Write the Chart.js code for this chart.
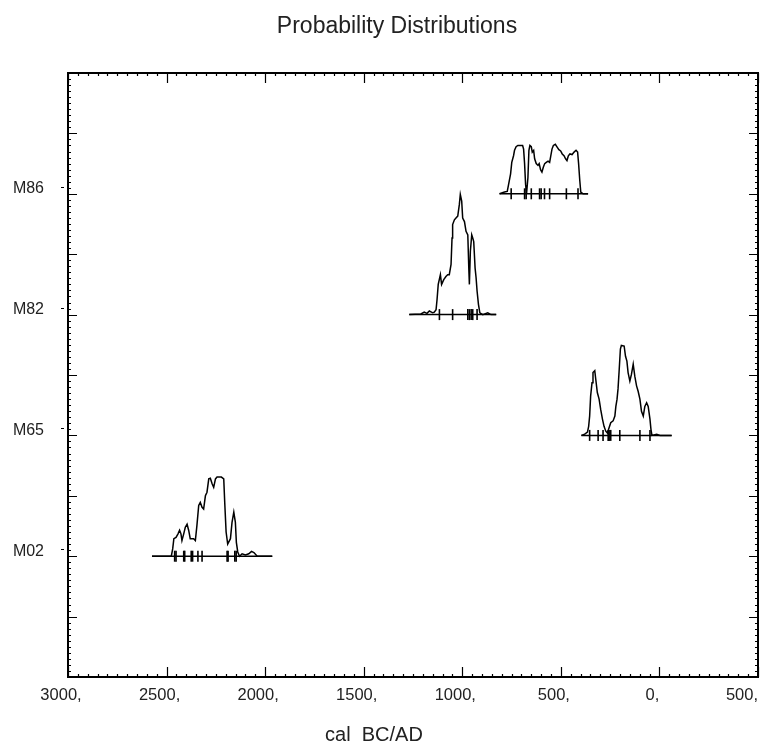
<!DOCTYPE html>
<html>
<head>
<meta charset="utf-8">
<title>Probability Distributions</title>
<script src="https://cdn.jsdelivr.net/npm/chart.js@4.4.1/dist/chart.umd.min.js"></script>
<style>
    html, body { margin: 0; padding: 0; background: #fff; }
    #wrap { width: 760px; height: 745px; }
</style>
</head>
<body>
<div id="wrap"><canvas id="probChart" width="760" height="745"></canvas></div>
<script>
// Sample names and the row each one sits on (y units)
const sampleNames = ['M02', 'M65', 'M82', 'M86'];
const sampleRows = [2, 4, 6, 8];

// x axis: cal BC positive, AD negative
const xTickValues = [3000, 2500, 2000, 1500, 1000, 500, 0, -500];
const xTickLabels = ['3000,', '2500,', '2000,', '1500,', '1000,', '500,', '0,', '500,'];

// M02 distribution
const m02Years = [2574, 2476, 2469, 2463, 2452, 2442, 2434, 2427, 2422, 2413,
    2405, 2396, 2388, 2380, 2363, 2354, 2346, 2337, 2329, 2320,
    2312, 2303, 2295, 2286, 2278, 2269, 2261, 2252, 2244, 2222,
    2210, 2205, 2198, 2190, 2176, 2168, 2159, 2151, 2146, 2139,
    2130, 2117, 2100, 2083, 2069, 2057, 2040, 1964];
const m02Prob = [0, 0, 0.12, 0.29, 0.31, 0.37, 0.43, 0.37, 0.26, 0.37,
    0.48, 0.53, 0.43, 0.29, 0.29, 0.26, 0.51, 0.84, 0.89, 0.81,
    0.78, 1.00, 1.06, 1.28, 1.29, 1.20, 1.14, 1.28, 1.31, 1.31,
    1.28, 0.89, 0.40, 0.20, 0.29, 0.56, 0.73, 0.56, 0.23, 0.07,
    0, 0.04, 0.02, 0.04, 0.08, 0.06, 0, 0];
const m02Marks = [2459, 2452, 2413, 2408, 2375, 2368, 2341, 2320, 2193, 2188, 2154, 2147];

// M65 distribution
const m65Years = [396, 379, 365, 359, 354, 349, 342, 337, 328, 323,
    315, 306, 298, 289, 281, 272, 264, 255, 247, 235,
    226, 221, 215, 210, 204, 198, 193, 179, 172, 165,
    159, 150, 142, 133, 125, 116, 108, 99, 91, 82,
    74, 65, 57, 48, 43, 38, 14, -3, -62];
const m65Prob = [0, 0.02, 0.055, 0.15, 0.32, 0.65, 0.87, 1.04, 1.07, 0.93,
    0.71, 0.60, 0.43, 0.27, 0.15, 0.07, 0.04, 0.13, 0.21, 0.24,
    0.32, 0.48, 0.60, 0.77, 1.09, 1.43, 1.49, 1.48, 1.31, 1.23,
    1.04, 0.90, 1.01, 1.18, 0.98, 0.82, 0.73, 0.60, 0.40, 0.32,
    0.48, 0.54, 0.48, 0.27, 0.10, 0, 0.02, 0, 0];
const m65Marks = [354, 311, 286, 260, 255, 247, 201, 99, 48];

// M82 distribution
const m82Years = [1269, 1210, 1193, 1179, 1167, 1150, 1142, 1133, 1128, 1122,
    1111, 1105, 1094, 1083, 1074, 1066, 1057, 1052, 1049, 1040,
    1032, 1023, 1015, 1010, 1003, 998, 989, 981, 972, 967,
    964, 959, 952, 947, 942, 935, 930, 925, 918, 911,
    896, 871, 854, 828];
const m82Prob = [0, 0.01, 0.04, 0.02, 0.06, 0.03, 0.04, 0.08, 0.25, 0.50,
    0.66, 0.50, 0.58, 0.63, 0.66, 0.66, 0.83, 1.27, 1.49, 1.57,
    1.60, 1.63, 1.82, 1.99, 1.88, 1.60, 1.54, 1.38, 1.32, 0.77,
    0.50, 1.05, 1.32, 1.27, 1.21, 0.77, 0.61, 0.39, 0.17, 0.03,
    0, 0.03, 0, 0];
const m82Marks = [1116, 1049, 972, 964, 955, 947, 925];

// M86 distribution
const m86Years = [811, 786, 772, 766, 755, 749, 740, 735, 727, 718,
    694, 689, 684, 679, 674, 667, 662, 657, 650, 645,
    638, 633, 625, 616, 610, 603, 596, 589, 582, 574,
    565, 557, 552, 545, 538, 528, 518, 510, 501, 493,
    484, 476, 469, 462, 454, 443, 433, 423, 415, 410,
    404, 399, 387, 362];
const m86Prob = [0, 0.03, 0.04, 0.14, 0.33, 0.52, 0.63, 0.72, 0.78, 0.80,
    0.80, 0.74, 0.50, 0.16, 0, 0.27, 0.72, 0.80, 0.78, 0.69,
    0.72, 0.58, 0.50, 0.47, 0.50, 0.40, 0.36, 0.44, 0.50, 0.52,
    0.54, 0.52, 0.61, 0.74, 0.80, 0.82, 0.77, 0.73, 0.71, 0.66,
    0.63, 0.58, 0.55, 0.63, 0.66, 0.65, 0.69, 0.72, 0.69, 0.50,
    0.22, 0.03, 0, 0];
const m86Marks = [752, 684, 676, 650, 608, 600, 583, 557, 472, 413];

const samples = [
    { years: m02Years, prob: m02Prob, marks: m02Marks },
    { years: m65Years, prob: m65Prob, marks: m65Marks },
    { years: m82Years, prob: m82Prob, marks: m82Marks },
    { years: m86Years, prob: m86Prob, marks: m86Marks }
];

const FONT = '"Liberation Sans", Arial, sans-serif';

// Build the datasets: curve, baseline and range marks for each sample
const datasets = [];
samples.forEach((s, i) => {
    const row = sampleRows[i];
    datasets.push({
        type: 'line',
        data: s.years.map((yr, k) => ({ x: yr, y: row + s.prob[k] })),
        borderColor: '#000',
        borderWidth: 1.5,
        pointRadius: 0,
        tension: 0,
        fill: false
    });
    datasets.push({
        type: 'line',
        data: [{ x: s.years[0], y: row }, { x: s.years[s.years.length - 1], y: row }],
        borderColor: '#000',
        borderWidth: 1.5,
        pointRadius: 0
    });
    datasets.push({
        type: 'scatter',
        data: s.marks.map(yr => ({ x: yr, y: row })),
        pointStyle: 'line',
        rotation: 90,
        radius: 5.5,
        borderColor: '#000',
        borderWidth: 1.6,
        showLine: false
    });
});

// Frame, inward ticks and the texts Chart.js does not place where we need them
const framePlugin = {
    id: 'frame',
    afterDraw(chart) {
        const { ctx, chartArea: a, scales: { x, y } } = chart;
        ctx.save();
        ctx.strokeStyle = '#000';
        ctx.lineWidth = 1.2;
        ctx.beginPath();
        for (let v = -500; v <= 3000; v += 50) {
            const px = Math.round(x.getPixelForValue(v)) + 0.5;
            const len = v % 500 === 0 ? 10 : 3;
            ctx.moveTo(px, a.bottom); ctx.lineTo(px, a.bottom - len);
            ctx.moveTo(px, a.top); ctx.lineTo(px, a.top + len);
        }
        for (let i = 0; i <= 100; i++) {
            const py = Math.round(y.getPixelForValue(i / 10)) + 0.5;
            const len = i % 10 === 0 ? 9 : 3;
            ctx.moveTo(a.left, py); ctx.lineTo(a.left + len, py);
            ctx.moveTo(a.right, py); ctx.lineTo(a.right - len, py);
        }
        // little dash by each row label
        sampleRows.forEach(r => {
            const py = Math.round(y.getPixelForValue(r)) - 6.5;
            ctx.moveTo(a.left - 7, py); ctx.lineTo(a.left - 4, py);
        });
        ctx.stroke();

        ctx.lineWidth = 2;
        ctx.strokeRect(a.left, a.top, a.right - a.left, a.bottom - a.top);

        ctx.fillStyle = '#222';
        ctx.textBaseline = 'alphabetic';

        // x tick labels
        ctx.font = '16.5px ' + FONT;
        ctx.textAlign = 'center';
        xTickValues.forEach((v, i) => {
            const w = ctx.measureText(xTickLabels[i]).width;
            let cx = x.getPixelForValue(v) - 7;
            if (cx + w / 2 > a.right) cx = a.right - w / 2;
            ctx.fillText(xTickLabels[i], cx, 700);
        });

        ctx.font = '23px ' + FONT;
        ctx.fillText('Probability Distributions', 397, 33);
        ctx.font = '20px ' + FONT;
        ctx.fillText('cal  BC/AD', 374, 741);
        ctx.restore();
    }
};

new Chart(document.getElementById('probChart'), {
    type: 'line',
    data: { datasets: datasets },
    options: {
        responsive: false,
        animation: false,
        devicePixelRatio: 1,
        layout: { autoPadding: false, padding: { top: 73, right: 2, left: 0, bottom: 0 } },
        plugins: {
            legend: { display: false },
            tooltip: { enabled: false },
            title: { display: false }
        },
        scales: {
            x: {
                type: 'linear',
                min: -500,
                max: 3000,
                reverse: true,
                afterBuildTicks: s => { s.ticks = xTickValues.map(v => ({ value: v })); },
                ticks: { display: false },
                grid: { display: false, drawTicks: false },
                border: { display: false },
                afterFit: s => { s.height = 68; s.paddingLeft = 0; s.paddingRight = 0; }
            },
            y: {
                type: 'linear',
                min: 0,
                max: 10,
                afterBuildTicks: s => { s.ticks = sampleRows.map(v => ({ value: v })); },
                ticks: {
                    callback: (v, i) => sampleNames[i],
                    padding: 24,
                    labelOffset: -5,
                    color: '#222',
                    font: { family: FONT, size: 16 }
                },
                grid: { display: false, drawTicks: false },
                border: { display: false },
                afterFit: s => { s.width = 68; }
            }
        }
    },
    plugins: [framePlugin]
});
</script>
</body>
</html>
